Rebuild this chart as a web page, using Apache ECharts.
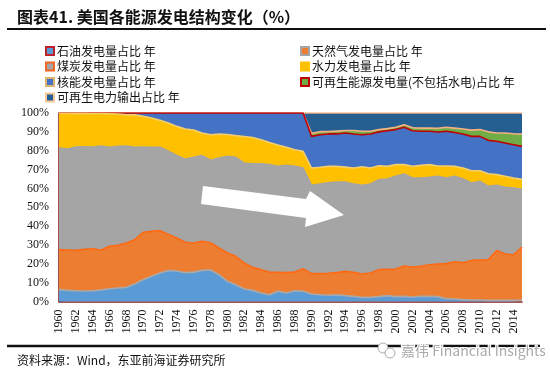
<!DOCTYPE html>
<html><head><meta charset="utf-8">
<script src="https://cdn.jsdelivr.net/npm/echarts@6/dist/echarts.min.js"></script>
<style>html,body{margin:0;padding:0;background:#fff}#c{width:550px;height:374px}</style>
</head><body><div id="c"></div>
<script>
var years = ['1960','1961','1962','1963','1964','1965','1966','1967','1968','1969','1970','1971','1972','1973','1974','1975','1976','1977','1978','1979','1980','1981','1982','1983','1984','1985','1986','1987','1988','1989','1990','1991','1992','1993','1994','1995','1996','1997','1998','1999','2000','2001','2002','2003','2004','2005','2006','2007','2008','2009','2010','2011','2012','2013','2014','2015'];
var yTicks = ['0%','10%','20%','30%','40%','50%','60%','70%','80%','90%','100%'];
var oil = [6.3,5.9,5.7,5.6,5.7,6.1,6.8,7.2,7.5,9.3,11.6,13.4,15.1,16.5,16.2,15.3,15.6,16.5,16.7,14.2,10.7,8.9,6.6,5.9,4.5,3.6,5.4,4.5,5.7,5.4,4.0,3.6,3.3,3.6,3.1,2.7,2.2,2.2,2.6,3.1,2.6,2.7,2.4,2.7,2.7,2.6,1.5,1.3,1.0,0.8,0.8,0.6,0.6,0.6,0.6,0.6];
var gas = [21.2,21.4,21.4,22.1,22.3,21.2,22.5,22.6,23.5,23.5,25.1,23.8,22.5,19.0,17.5,16.1,15.4,15.4,14.5,14.2,15.0,15.1,13.8,12.2,12.4,12.0,10.1,10.8,9.9,12.0,10.8,11.2,11.7,11.7,12.9,12.8,12.4,12.9,14.3,14.0,14.6,16.1,15.9,16.0,16.8,17.3,18.6,19.8,19.6,21.0,21.2,21.6,26.4,24.6,24.2,28.3];
var coal = [53.9,53.6,54.9,54.4,54.0,55.2,52.5,52.5,51.5,49.0,45.3,44.6,44.2,44.2,43.8,44.1,45.5,45.5,43.7,47.7,51.3,52.5,53.1,55.0,56.2,57.0,56.2,56.9,56.1,53.4,46.8,47.5,48.0,48.1,47.4,46.8,47.0,47.2,47.7,47.9,49.2,48.8,47.2,46.8,46.4,46.5,45.4,45.3,44.4,41.1,41.8,38.9,34.6,35.4,35.4,30.6];
var hydro = [18.5,19.0,17.8,17.7,17.7,17.2,17.8,17.2,16.6,17.2,16.2,15.5,14.3,15.0,15.4,16.0,14.5,12.0,13.6,12.7,11.6,11.5,14.0,13.9,12.7,11.7,11.3,9.6,8.8,8.9,9.2,8.9,8.7,8.3,7.9,8.5,9.9,8.5,7.4,6.7,6.2,5.0,6.2,6.7,6.7,5.5,6.4,5.3,5.8,6.5,5.6,6.7,5.7,5.8,5.3,5.3];
var nuclear = [0.1,0.1,0.2,0.2,0.3,0.3,0.4,0.5,0.9,1.0,1.8,2.7,3.9,5.3,7.1,8.5,9.0,10.6,11.5,11.2,11.4,12.0,12.5,13.0,14.2,15.7,17.0,18.2,19.5,20.3,16.8,17.3,17.2,17.2,18.1,18.1,17.0,18.1,18.0,18.9,18.6,19.8,18.9,18.1,17.7,18.0,18.4,18.0,18.1,18.2,18.2,17.7,17.7,17.7,17.7,17.5];
var renewNoHydro = [0,0,0,0,0,0,0,0,0,0,0,0,0,0,0,0,0,0,0,0,0,0,0,0,0,0,0,0,0,0,1.6,1.6,1.2,1.5,1.3,1.8,1.8,1.4,1.2,1.1,1.2,1.4,1.6,1.7,1.7,2.0,2.1,2.3,2.6,3.3,3.6,4.5,4.4,5.3,5.8,6.5];
var renewOutput = [0,0,0,0,0,0,0,0,0,0,0,0,0,0,0,0,0,0,0,0,0,0,0,0,0,0,0,0,0,0,10.8,9.9,9.9,9.6,9.3,9.3,9.7,9.7,8.8,8.3,7.6,6.2,7.8,8.0,8.0,8.1,7.6,8.0,8.5,9.1,8.8,10.0,10.6,10.6,11.0,11.2];

var names = ['石油发电量占比 年','天然气发电量占比 年','煤炭发电量占比 年','水力发电量占比 年','核能发电量占比 年','可再生能源发电量(不包括水电)占比 年','可再生电力输出占比 年'];
var fills = ['#5B9BD5','#ED7D31','#A5A5A5','#FFC000','#4472C4','#70AD47','#255E91'];
var lines = ['#A9A9A9','#FF6A13','#A5A5A5','#F2CE6E','#C00000','#F4B183','#F4B183'];
var borders = ['#C0202A','#A5A5A5','#F26522','#FFC000','#E0B468','#C00000','#F8C89A'];
var dataSets = [oil, gas, coal, hydro, nuclear, renewNoHydro, renewOutput];

var series = dataSets.map(function(d, i){
  return {
    name: names[i], type: 'line', stack: 'all', data: d,
    symbol: 'none', smooth: false, z: 10 - i,
    lineStyle: {color: lines[i], width: 1.6},
    itemStyle: {color: fills[i]},
    areaStyle: {color: fills[i], opacity: 1}
  };
});

function legendItem(i){
  return {name: names[i], itemStyle: {color: fills[i], borderColor: borders[i], borderWidth: 2}};
}
var cjk = '"Noto Sans CJK SC", sans-serif';
var serif = '"Liberation Serif", "Times New Roman", serif';

var chart = echarts.init(document.getElementById('c'));
chart.setOption({
  animation: false,
  backgroundColor: '#fff',
  grid: {left: 59, right: 28, top: 113, bottom: 72.5, containLabel: false},
  legend: [
    {orient: 'vertical', left: 40, top: 40, icon: 'rect', itemWidth: 8, itemHeight: 8, itemGap: 3.5,
     textStyle: {fontFamily: cjk, fontSize: 12, color: '#111', padding: [0,0,0,-2]},
     data: [legendItem(0), legendItem(2), legendItem(4), legendItem(6)]},
    {orient: 'vertical', left: 295, top: 40, icon: 'rect', itemWidth: 8, itemHeight: 8, itemGap: 3.5,
     textStyle: {fontFamily: cjk, fontSize: 12, color: '#111', padding: [0,0,0,-2]},
     data: [legendItem(1), legendItem(3), legendItem(5)]}
  ],
  xAxis: {
    type: 'category', data: years, boundaryGap: false,
    axisLine: {lineStyle: {color: '#8B1A1A', width: 1.5}},
    axisTick: {show: false},
    axisLabel: {interval: 1, rotate: 90, fontFamily: serif, fontSize: 12, color: '#111', margin: 8}
  },
  yAxis: {
    type: 'value', min: 0, max: 100, interval: 10,
    splitLine: {show: false},
    axisLine: {show: true, lineStyle: {color: '#8B1A1A', width: 1.5}},
    axisTick: {show: true, inside: true, length: 3, lineStyle: {color: '#444'}},
    axisLabel: {fontFamily: serif, fontSize: 12, color: '#111', margin: 10,
      formatter: function(v){ return yTicks[Math.round(v/10)]; }}
  },
  series: series,
  graphic: [
    {type: 'text', left: 17, top: 9, z: 100, style: {text: '图表41. 美国各能源发电结构变化（%）', font: 'bold 16px ' + cjk, fill: '#111'}},
    {type: 'line', z: 100, shape: {x1: 7, y1: 29, x2: 546, y2: 29}, style: {stroke: '#111', lineWidth: 2}},
    {type: 'line', z: 100, shape: {x1: 7, y1: 346, x2: 540, y2: 346}, style: {stroke: '#111', lineWidth: 2.5}},
    {type: 'text', left: 17, top: 354, z: 100, style: {text: '资料来源：Wind，东亚前海证券研究所', font: '12px ' + cjk, fill: '#111'}},
    {type: 'polygon', z: 100, shape: {points: [[203,186],[306,199],[310,191],[344,215],[305,227],[306,218],[201,204]]}, style: {fill: '#fff'}},
    {type: 'circle', z: 101, shape: {cx: 383, cy: 348, r: 5}, style: {fill: '#fff', stroke: '#aaa', lineWidth: 1}},
    {type: 'circle', z: 101, shape: {cx: 390, cy: 353, r: 5}, style: {fill: '#fff', stroke: '#aaa', lineWidth: 1}},
    {type: 'text', left: 400, top: 343, z: 101, style: {text: '嘉伟 Financial Insights', font: '14px "Noto Sans CJK SC", sans-serif', fill: '#aaa', stroke: '#fff', lineWidth: 2}}
  ]
});
</script></body></html>
